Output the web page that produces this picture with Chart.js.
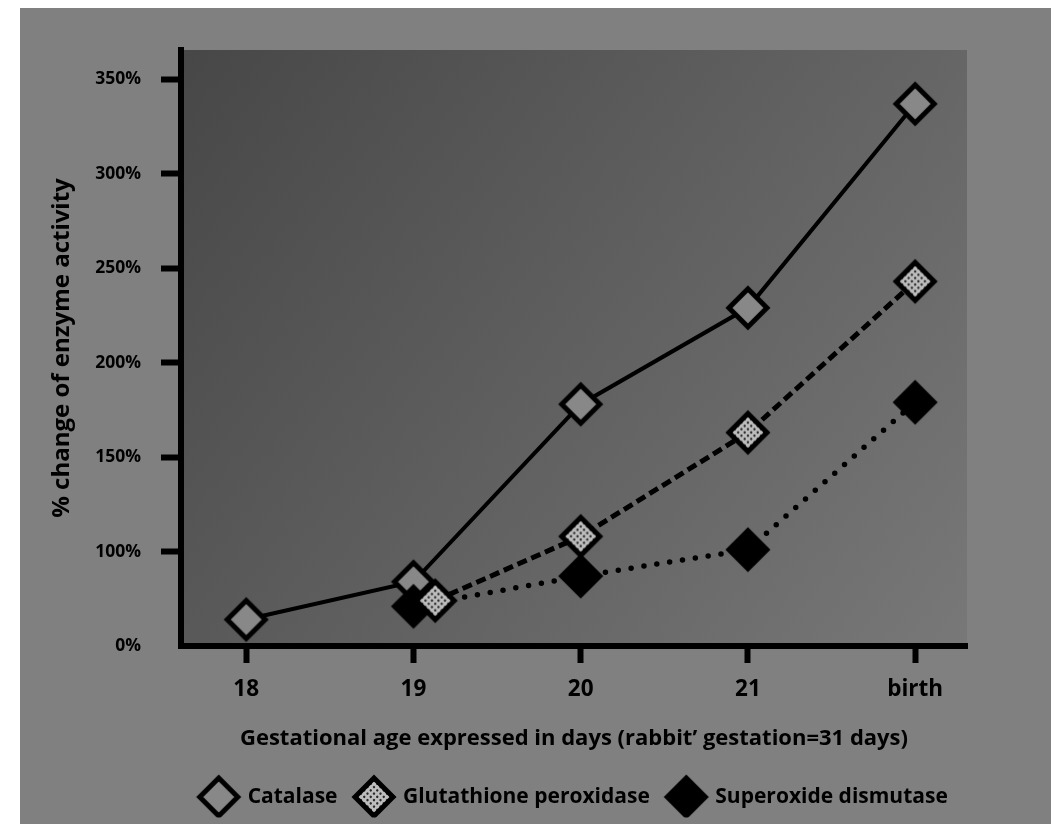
<!DOCTYPE html>
<html>
<head>
<meta charset="utf-8">
<script src="https://cdn.jsdelivr.net/npm/chart.js@4"></script>
<style>
  html, body { margin: 0; background: #fff; }
  #wrap { position: absolute; left: 20px; top: 8px; width: 1031px; height: 816px; background: #808080; }
</style>
</head>
<body>
<div id="wrap"><canvas id="chart" width="1031" height="816"></canvas></div>
<script>
const ages = ['18', '19', '20', '21', 'birth'];
const catalase = [64, 84, 178, 229, 337];
const glutathione = [null, 74, 108, 163, 243];
const superoxide = [null, 71, 87, 101, 179];
// the 19-day glutathione marker is plotted a little right of its tick
const glutathioneAt = [0, 1.13, 2, 3, 4];

// value axis is broken below 100%: its bottom tick reads 0%
const yTicks = [50, 100, 150, 200, 250, 300, 350];
const yTickLabels = ['0%', '100%', '150%', '200%', '250%', '300%', '350%'];

const FONT = '"Open Sans", Lato, sans-serif';
const INK = '#000';

function diamondPath(g, r) {
    g.beginPath();
    g.moveTo(0, -r);
    g.lineTo(r, 0);
    g.lineTo(0, r);
    g.lineTo(-r, 0);
    g.closePath();
}

// diamond markers drawn once and reused as point style (chart + legend)
function diamond(fill, dotted) {
    const size = 50, r = 19;
    const c = document.createElement('canvas');
    c.width = c.height = size;
    const g = c.getContext('2d');
    g.translate(size / 2, size / 2);
    diamondPath(g, r);
    g.fillStyle = fill;
    g.fill();
    if (dotted) {
        g.save();
        g.clip();
        g.rotate(Math.PI / 4);
        g.fillStyle = '#2a2a2a';
        for (let i = -30; i <= 30; i += 4.6) {
            for (let j = -30; j <= 30; j += 4.6) {
                g.beginPath();
                g.arc(i, j, 1.2, 0, Math.PI * 2);
                g.fill();
            }
        }
        g.restore();
    }
    diamondPath(g, r);
    g.lineWidth = 5;
    g.strokeStyle = INK;
    g.stroke();
    return c;
}

const markOpen = diamond('#888888', false);
const markDotted = diamond('#bdbdbd', true);
const markSolid = diamond('#000', false);

function points(values, xs) {
    return values
        .map((y, i) => ({ x: xs ? xs[i] : i, y }))
        .filter(p => p.y !== null);
}

// shaded plot background, dark at the top left
const plotShade = {
    id: 'plotShade',
    beforeDraw(chart) {
        const { ctx, chartArea: a } = chart;
        const grad = ctx.createLinearGradient(a.left, a.top, a.right, a.bottom);
        grad.addColorStop(0, '#474747');
        grad.addColorStop(1, '#787878');
        ctx.save();
        ctx.fillStyle = grad;
        ctx.fillRect(a.left, a.top, a.right - a.left, a.bottom - a.top);
        ctx.restore();
    }
};

new Chart(document.getElementById('chart'), {
    type: 'line',
    data: {
        datasets: [
            {
                label: 'Catalase',
                data: points(catalase),
                order: 2,
                borderColor: INK,
                borderWidth: 4,
                pointStyle: markOpen,
                pointRadius: 19,
                tension: 0
            },
            {
                label: 'Glutathione peroxidase',
                data: points(glutathione, glutathioneAt),
                order: 0,
                borderColor: INK,
                borderWidth: 5,
                borderDash: [10, 5],
                pointStyle: markDotted,
                pointRadius: 19,
                tension: 0
            },
            {
                label: 'Superoxide dismutase',
                data: points(superoxide),
                order: 1,
                borderColor: INK,
                borderWidth: 5.5,
                borderDash: [0, 13],
                borderCapStyle: 'round',
                pointStyle: markSolid,
                pointRadius: 19,
                tension: 0
            }
        ]
    },
    options: {
        responsive: false,
        animation: false,
        layout: { padding: { top: 42, right: 84, left: 0, bottom: 6.5 } },
        plugins: {
            tooltip: { enabled: false },
            legend: {
                position: 'bottom',
                fullSize: false,
                labels: {
                    usePointStyle: true,
                    pointStyleWidth: 37,
                    padding: 18,
                    color: INK,
                    font: { family: FONT, size: 21, weight: 'bold' },
                    sort: (a, b) => a.datasetIndex - b.datasetIndex
                }
            }
        },
        scales: {
            x: {
                type: 'linear',
                min: -0.39,
                max: 4.31,
                afterBuildTicks: (s) => { s.ticks = ages.map((_, i) => ({ value: i })); },
                afterFit: (s) => { s.height = 122.5; },
                border: { color: INK, width: 6 },
                grid: { drawOnChartArea: false, tickLength: 17, tickWidth: 6, tickColor: INK },
                ticks: {
                    color: INK,
                    padding: 13.5,
                    font: { family: FONT, size: 22.5, weight: 'bold' },
                    callback: (v) => ages[v]
                },
                title: {
                    display: true,
                    text: 'Gestational age expressed in days (rabbit\u2019 gestation=31 days)',
                    color: INK,
                    font: { family: FONT, size: 22, weight: 'bold' },
                    padding: { top: 0, bottom: 17 }
                }
            },
            y: {
                min: 50,
                max: 365.5,
                afterBuildTicks: (s) => { s.ticks = yTicks.map(v => ({ value: v })); },
                afterFit: (s) => { s.width = 161; },
                border: { color: INK, width: 6 },
                grid: {
                    drawOnChartArea: false,
                    tickLength: 20,
                    tickWidth: 6,
                    tickColor: (c) => (c.tick && c.tick.value === yTicks[0] ? 'rgba(0,0,0,0)' : INK)
                },
                ticks: {
                    color: INK,
                    padding: 20,
                    font: { family: FONT, size: 17.5, weight: 'bold' },
                    callback: (v) => yTickLabels[yTicks.indexOf(v)]
                },
                title: {
                    display: true,
                    text: '% change of enzyme activity',
                    color: INK,
                    font: { family: FONT, size: 24, weight: 'bold' },
                    padding: { top: 27.5, bottom: 0 }
                }
            }
        }
    },
    plugins: [plotShade]
});
</script>
</body>
</html>
